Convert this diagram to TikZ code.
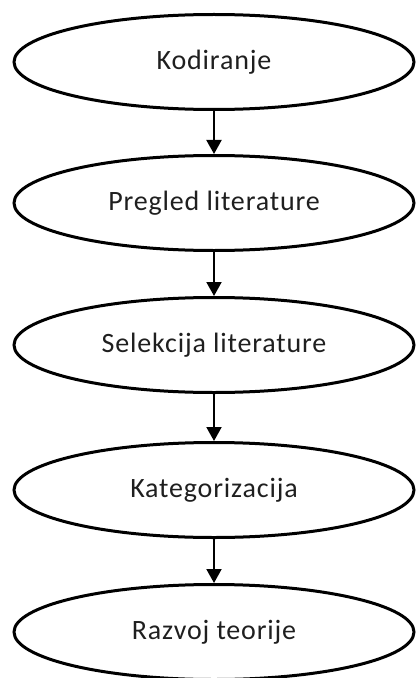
\documentclass[tikz,border=0pt]{standalone}
\usepackage{fontspec}
\setmainfont{Carlito}[LetterSpace=3]
\usetikzlibrary{shapes.geometric,arrows.meta}
\begin{document}
\begin{tikzpicture}[x=1bp,y=-1bp,
  stage/.style={ellipse,draw=black,line width=3bp,minimum width=400bp,minimum height=95bp,inner sep=0pt,font=\fontsize{28bp}{33bp}\selectfont,text=black!88},
  flow/.style={line width=2bp,-{Triangle[length=14bp,width=15bp]}}]
\useasboundingbox (0,0) rectangle (415,678);
\node[stage] (a) at (214,62) {Kodiranje};
\node[stage] (b) at (214,203) {Pregled literature};
\node[stage] (c) at (214,345) {Selekcija literature};
\node[stage] (d) at (214,490) {Kategorizacija};
\node[stage] (e) at (214,632) {Razvoj teorije};
\draw[flow] (a.south) -- (b.north);
\draw[flow] (b.south) -- (c.north);
\draw[flow] (c.south) -- (d.north);
\draw[flow] (d.south) -- (e.north);
\end{tikzpicture}
\end{document}
